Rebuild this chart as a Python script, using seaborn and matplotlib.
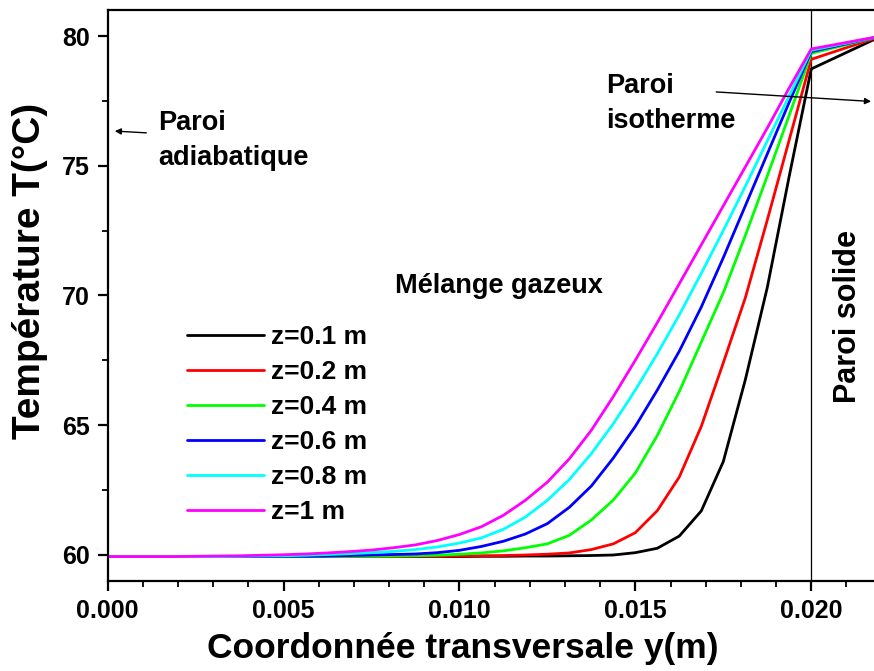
import matplotlib
matplotlib.use("Agg")
import matplotlib.pyplot as plt
from matplotlib.ticker import MultipleLocator, FormatStrFormatter
import pandas as pd
import seaborn as sns

# ---- data ----
y_pos = [0.000000, 0.000625, 0.001250, 0.001875, 0.002500, 0.003125, 0.003750, 0.004375,
         0.005000, 0.005625, 0.006250, 0.006875, 0.007500, 0.008125, 0.008750, 0.009375,
         0.010000, 0.010625, 0.011250, 0.011875, 0.012500, 0.013125, 0.013750, 0.014375,
         0.015000, 0.015625, 0.016250, 0.016875, 0.017500, 0.018125, 0.018750, 0.019375,
         0.020000, 0.022000]

T_z01 = [59.93, 59.93, 59.93, 59.93, 59.93, 59.93, 59.93, 59.93, 59.93, 59.93, 59.93, 59.93,
         59.93, 59.93, 59.93, 59.93, 59.93, 59.94, 59.94, 59.95, 59.95, 59.96, 59.97, 59.99,
         60.08, 60.25, 60.72, 61.69, 63.59, 66.74, 70.30, 74.60, 78.73, 80.00]
T_z02 = [59.93, 59.93, 59.93, 59.93, 59.93, 59.93, 59.93, 59.93, 59.93, 59.93, 59.93, 59.93,
         59.93, 59.93, 59.94, 59.94, 59.95, 59.96, 59.97, 59.99, 60.02, 60.07, 60.20, 60.42,
         60.85, 61.70, 63.00, 64.95, 67.40, 69.90, 72.90, 76.00, 79.10, 80.00]
T_z04 = [59.93, 59.93, 59.93, 59.93, 59.93, 59.93, 59.93, 59.93, 59.93, 59.93, 59.93, 59.94,
         59.94, 59.95, 59.96, 59.98, 60.02, 60.07, 60.15, 60.27, 60.42, 60.75, 61.34, 62.11,
         63.15, 64.60, 66.30, 68.20, 70.10, 72.30, 74.60, 76.95, 79.33, 80.00]
T_z06 = [59.93, 59.93, 59.93, 59.93, 59.93, 59.93, 59.93, 59.93, 59.94, 59.94, 59.95, 59.97,
         59.99, 60.01, 60.03, 60.08, 60.17, 60.32, 60.52, 60.80, 61.20, 61.83, 62.65, 63.73,
         64.95, 66.35, 67.85, 69.55, 71.45, 73.45, 75.45, 77.45, 79.40, 80.00]
T_z08 = [59.93, 59.93, 59.93, 59.93, 59.93, 59.93, 59.94, 59.95, 59.96, 59.98, 60.01, 60.04,
         60.08, 60.13, 60.20, 60.30, 60.45, 60.65, 60.98, 61.45, 62.10, 62.90, 63.90, 65.05,
         66.35, 67.75, 69.25, 70.85, 72.50, 74.20, 75.95, 77.70, 79.45, 80.00]
T_z10 = [59.93, 59.93, 59.93, 59.93, 59.94, 59.95, 59.96, 59.98, 60.00, 60.03, 60.07, 60.12,
         60.18, 60.27, 60.38, 60.55, 60.78, 61.08, 61.52, 62.10, 62.80, 63.70, 64.80, 66.10,
         67.50, 68.95, 70.45, 71.95, 73.45, 74.95, 76.45, 78.00, 79.50, 80.00]

series_labels = ["z=0.1 m", "z=0.2 m", "z=0.4 m", "z=0.6 m", "z=0.8 m", "z=1 m"]
series_values = [T_z01, T_z02, T_z04, T_z06, T_z08, T_z10]
series_colors = ["#000000", "#FF0000", "#00FF00", "#0000FF", "#00FFFF", "#FF00FF"]

x_ticks = [0.000, 0.005, 0.010, 0.015, 0.020]
y_ticks = [60, 65, 70, 75, 80]
wall_y = 0.020

# ---- build long table ----
rows = []
for lab, vals in zip(series_labels, series_values):
    for yy, tt in zip(y_pos, vals):
        rows.append({"y": yy, "T": tt, "z": lab})
df = pd.DataFrame(rows)

sns.set_theme(style="ticks")
plt.rcParams["font.family"] = ["Liberation Sans", "DejaVu Sans"]
plt.rcParams["font.weight"] = "bold"
plt.rcParams["axes.labelweight"] = "bold"
plt.rcParams["text.color"] = "black"
plt.rcParams["axes.labelcolor"] = "black"
plt.rcParams["xtick.color"] = "black"
plt.rcParams["ytick.color"] = "black"
plt.rcParams["axes.edgecolor"] = "black"

fig = plt.figure(figsize=(8.74, 6.71), dpi=100)
ax = fig.add_axes([0.1231, 0.1346, 0.8856, 0.8504])

sns.lineplot(data=df, x="y", y="T", hue="z", hue_order=series_labels,
             palette=series_colors, estimator=None, sort=False,
             linewidth=2.0, ax=ax)

ax.axvline(wall_y, color="black", lw=0.9, zorder=1)

ax.set_xlim(0, 0.022)
ax.set_ylim(59, 81)
ax.set_xticks(x_ticks)
ax.set_yticks(y_ticks)
ax.xaxis.set_major_formatter(FormatStrFormatter("%.3f"))
ax.xaxis.set_minor_locator(MultipleLocator(0.001))
ax.yaxis.set_minor_locator(MultipleLocator(2.5))

for s in ["left", "bottom", "top"]:
    ax.spines[s].set_linewidth(1.6)
    ax.spines[s].set_color("black")
ax.spines["right"].set_visible(False)

ax.tick_params(which="major", direction="out", length=7, width=1.6,
               labelsize=18, pad=6, colors="black", top=False, right=False)
ax.tick_params(which="minor", direction="out", length=4, width=1.3,
               top=False, right=False, color="black")
for lbl in ax.get_xticklabels() + ax.get_yticklabels():
    lbl.set_fontweight("bold")
    lbl.set_color("black")

ax.set_xlabel("Coordonnée transversale y(m)", fontsize=25.5, fontweight="bold",
              va="center", color="black")
ax.set_ylabel("Température T(°C)", fontsize=28, fontweight="bold",
              va="center", color="black")
ax.xaxis.set_label_coords(0.4585, -0.118)
ax.yaxis.set_label_coords(-0.1003, 0.5427)

# legend
handles, labels = ax.get_legend_handles_labels()
leg = ax.legend(handles, labels, loc="center left", bbox_to_anchor=(0.214, 0.367),
                bbox_transform=fig.transFigure, frameon=False, fontsize=19,
                handlelength=2.9, handletextpad=0.3, labelspacing=0.42,
                borderpad=0, borderaxespad=0)
for t in leg.get_texts():
    t.set_fontweight("bold")
    t.set_color("black")

# annotations
txt_kw = dict(fontsize=19.5, fontweight="bold", color="black")
ax.text(0.00144, 76.38, "Paroi", va="baseline", ha="left", **txt_kw)
ax.text(0.00144, 75.03, "adiabatique", va="baseline", ha="left", **txt_kw)
ax.annotate("", xy=(0.000125, 76.34), xytext=(0.00118, 76.26),
            arrowprops=dict(arrowstyle="-|>", color="black", lw=1.0, mutation_scale=9))

ax.text(0.01416, 77.81, "Paroi", va="baseline", ha="left", **txt_kw)
ax.text(0.01416, 76.46, "isotherme", va="baseline", ha="left", **txt_kw)
ax.annotate("", xy=(0.02178, 77.47), xytext=(0.01722, 77.85),
            arrowprops=dict(arrowstyle="-|>", color="black", lw=1.0, mutation_scale=9),
            annotation_clip=False)

ax.text(0.008169, 70.10, "Mélange gazeux", va="baseline", ha="left", fontsize=19.5,
        fontweight="bold", color="black")
ax.text(0.02105, 69.17, "Paroi solide", rotation=90, va="center", ha="center",
        fontsize=22, fontweight="bold", color="black")

fig.savefig("out.png", dpi=100)
